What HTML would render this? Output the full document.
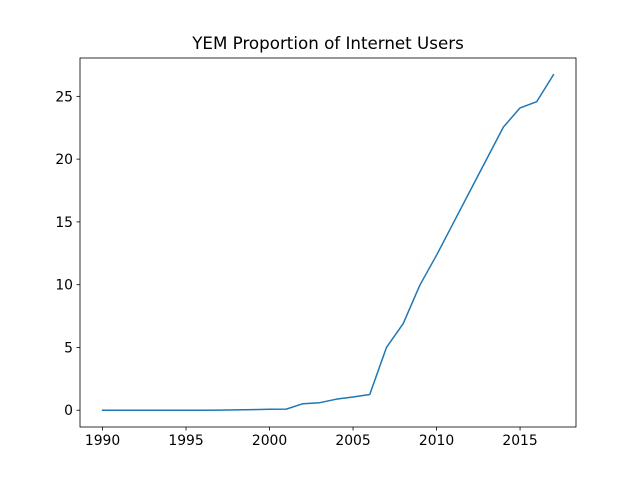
<!DOCTYPE html>
<html><head><meta charset="utf-8"><style>body{margin:0;background:#fff}svg{display:block}text{font-family:"DejaVu Sans","Liberation Sans",sans-serif;fill:#000}</style></head>
<body>
<svg id="chart" width="640" height="480"></svg>
<script>
const years=[1990,1991,1992,1993,1994,1995,1996,1997,1998,1999,2000,2001,2002,2003,2004,2005,2006,2007,2008,2009,2010,2011,2012,2013,2014,2015,2016,2017];
const values=[0,0,0,0,0,0,0,0.01,0.03,0.05,0.08,0.09,0.52,0.6,0.88,1.05,1.25,5.0,6.89,9.96,12.35,14.9,17.45,20.0,22.55,24.08,24.58,26.72];
const xTicks=[1990,1995,2000,2005,2010,2015];
const yTicks=[0,5,10,15,20,25];
const NS='http://www.w3.org/2000/svg';
const svg=document.getElementById('chart');
const L=80,R=576,T=58,B=427;
const xmin=Math.min(...years),xmax=Math.max(...years),xm=(xmax-xmin)*0.05;
const ymin=Math.min(...values),ymax=Math.max(...values),ym=(ymax-ymin)*0.05;
const X=v=>L+(v-(xmin-xm))/((xmax+xm)-(xmin-xm))*(R-L);
const Y=v=>B-(v-(ymin-ym))/((ymax+ym)-(ymin-ym))*(B-T);
function el(t,a,txt){const e=document.createElementNS(NS,t);for(const k in a)e.setAttribute(k,a[k]);if(txt!==undefined)e.textContent=txt;svg.appendChild(e);return e;}
const title=el('text',{x:(L+R)/2,y:49,'text-anchor':'middle','font-size':16.7},'YEM Proportion of Internet Users');


const d=years.map((y,i)=>(i?'L':'M')+X(y).toFixed(2)+','+Y(values[i]).toFixed(2)).join(' ');
const line=el('path',{d:d,fill:'none',stroke:'#1f77b4','stroke-width':1.5,'stroke-linejoin':'round','stroke-linecap':'square'});


xTicks.forEach(t=>{const x=X(t);
 el('line',{x1:x,x2:x,y1:B,y2:B+3.5,stroke:'#000','stroke-width':0.8});
 const tx=el('text',{x:x,y:B+18,'text-anchor':'middle','font-size':13.9},t);
 
 });
yTicks.forEach(t=>{const y=Y(t);
 el('line',{x1:L-3.5,x2:L,y1:y,y2:y,stroke:'#000','stroke-width':0.8});
 const tx=el('text',{x:L-7,y:y+5,'text-anchor':'end','font-size':13.9},t);
 
 });
const frame=el('rect',{x:L,y:T,width:R-L,height:B-T,fill:'none',stroke:'#000','stroke-width':0.8});


</script>
</body></html>
